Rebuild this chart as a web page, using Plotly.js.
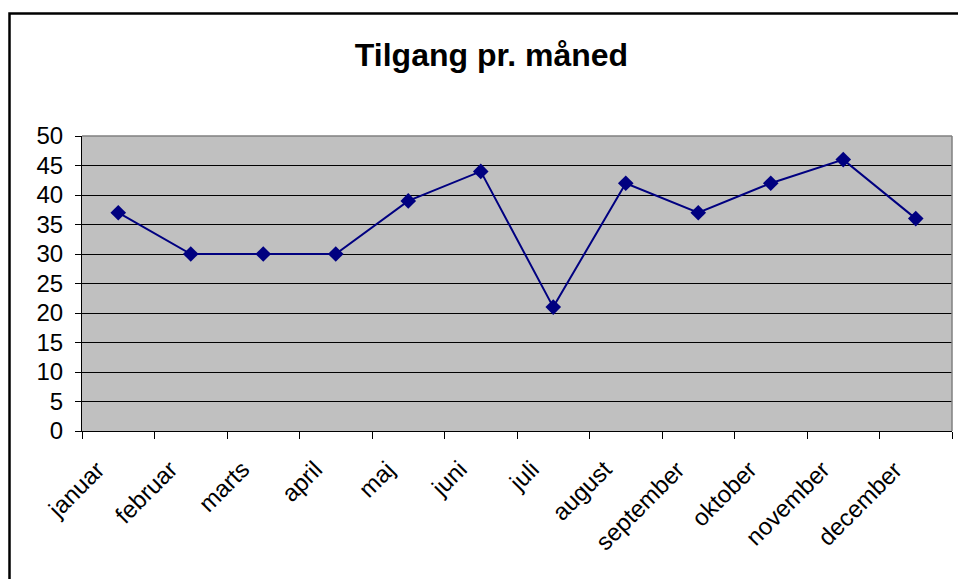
<!DOCTYPE html>
<html>
<head>
<meta charset="utf-8">
<script src="https://cdn.plot.ly/plotly-3.0.1.min.js"></script>
<style>
html,body{margin:0;padding:0;background:#fff;}
#chart{width:958px;height:579px;}
</style>
</head>
<body>
<div id="chart"></div>
<script>
const months = ["januar","februar","marts","april","maj","juni","juli","august","september","oktober","november","december"];
const values = [37, 30, 30, 30, 39, 44, 21, 42, 37, 42, 46, 36];
const yTicks = [0,5,10,15,20,25,30,35,40,45,50];

const trace = {
  x: months,
  y: values,
  type: "scatter",
  mode: "lines+markers",
  line: {color: "#000080", width: 2},
  marker: {symbol: "diamond", size: 12, color: "#000080"},
  hoverinfo: "x+y"
};

const monthLabels = months.map(function(m){
  return {
    x: m, xref: "x",
    y: 0, yref: "paper",
    text: m,
    showarrow: false,
    textangle: -45,
    xanchor: "right",
    yanchor: "top",
    xshift: -6,
    yshift: -22,
    font: {size: 24, family: "Liberation Sans, Arial, sans-serif", color: "#000"}
  };
});

const layout = {
  width: 958,
  height: 579,
  margin: {l: 82, r: 6, t: 136, b: 148},
  paper_bgcolor: "#ffffff",
  plot_bgcolor: "#c0c0c0",
  showlegend: false,
  font: {family: "Liberation Sans, Arial, sans-serif", color: "#000"},
  title: {
    text: "<b>Tilgang pr. måned</b>",
    font: {size: 32, family: "Liberation Sans, Arial, sans-serif", color: "#000"},
    x: 0.513, xref: "container", xanchor: "center",
    y: 0.905, yref: "container", yanchor: "middle"
  },
  xaxis: {
    type: "category",
    tickson: "boundaries",
    ticks: "outside",
    ticklen: 7,
    tickcolor: "#000",
    showticklabels: false,
    showline: true,
    linecolor: "#000",
    linewidth: 1,
    showgrid: false,
    zeroline: false,
    range: [-0.5, 11.5],
    fixedrange: true
  },
  yaxis: {
    range: [0, 50],
    tickvals: yTicks,
    ticktext: yTicks.map(String),
    ticks: "outside",
    ticklen: 6,
    tickcolor: "#000",
    tickfont: {size: 24},
    ticklabelstandoff: 7,
    showline: true,
    linecolor: "#000",
    linewidth: 1,
    showgrid: true,
    gridcolor: "#000",
    gridwidth: 1,
    zeroline: false,
    fixedrange: true
  },
  annotations: monthLabels,
  shapes: [
    {type: "line", xref: "paper", yref: "paper", x0: 0, x1: 1, y0: 1, y1: 1, line: {color: "#808080", width: 1.5}},
    {type: "line", xref: "paper", yref: "paper", x0: 1, x1: 1, y0: 0, y1: 1, line: {color: "#808080", width: 1.5}}
  ]
};

Plotly.newPlot("chart", [trace], layout, {displayModeBar: false, staticPlot: true}).then(function(){
  // outer frame (top and left edges visible in the reference)
  const svg = document.querySelector("#chart .main-svg");
  const ns = "http://www.w3.org/2000/svg";
  const g = document.createElementNS(ns, "g");
  const p = document.createElementNS(ns, "path");
  p.setAttribute("d", "M9.5,600 L9.5,13.5 L970,13.5");
  p.setAttribute("stroke", "#000");
  p.setAttribute("stroke-width", "2.5");
  p.setAttribute("fill", "none");
  g.appendChild(p);
  svg.appendChild(g);
});
</script>
</body>
</html>
